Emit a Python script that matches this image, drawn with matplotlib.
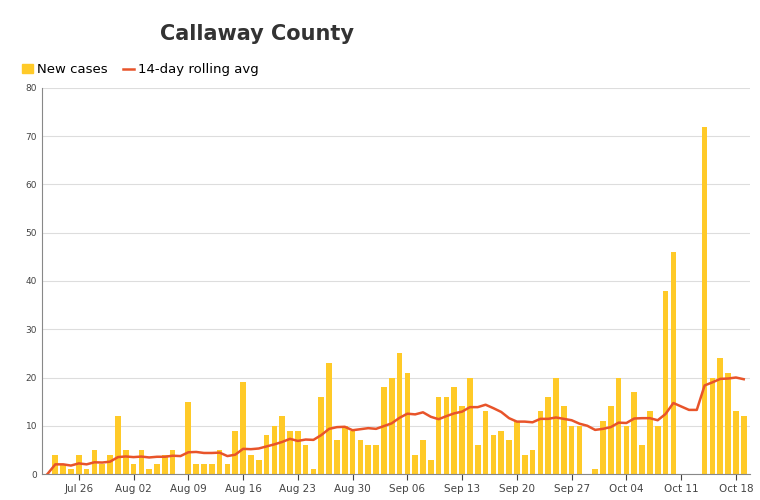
import numpy as np
import pandas as pd
import matplotlib
matplotlib.use("Agg")
import matplotlib.pyplot as plt
import matplotlib.dates as mdates

start = "2020-07-22"
cases = [0,4,2,1,4,1,5,2,4,12,5,2,5,1,2,4,5,0,15,2,2,2,5,2,9,19,4,3,8,10,
         12,9,9,6,1,16,23,7,10,9,7,6,6,18,20,25,21,4,7,3,16,16,18,14,20,6,13,8,9,7,
         11,4,5,13,16,20,14,10,10,0,1,11,14,20,10,17,6,13,10,38,46,0,0,0,72,20,24,21,13,12]
dates = pd.date_range(start, periods=len(cases), freq="D")
s = pd.Series(cases, index=dates, dtype=float)
avg = s.rolling(14, min_periods=1).mean()
tick_dates = pd.date_range("2020-07-26", "2020-10-18", freq="7D")
tick_labels = [d.strftime("%b %d") for d in tick_dates]

fig = plt.figure(figsize=(7.6, 5.0), dpi=100)
ax = fig.add_axes([42/760, 26/500, 708/760, 386/500])
ax.bar(dates, s.values, width=0.72, color="#FFCA28", zorder=2)
ax.plot(dates, avg.values, color="#E8542A", lw=1.8, zorder=3)
ax.set_ylim(0, 80)
ax.set_yticks(range(0, 81, 10))
ax.set_xlim(dates[0] - pd.Timedelta(days=0.7), dates[-1] + pd.Timedelta(days=0.8))
ax.set_xticks(tick_dates)
ax.set_xticklabels(tick_labels)
ax.tick_params(axis="x", labelsize=7.5, colors="#444", length=4)
ax.tick_params(axis="y", labelsize=6.5, colors="#444", length=0)
ax.grid(axis="y", color="#dddddd", lw=0.8, zorder=0)
for sp in ["top", "right"]:
    ax.spines[sp].set_visible(False)
for sp in ["left", "bottom"]:
    ax.spines[sp].set_color("#888")
fig.text(257/760, 1 - 34/500, "Callaway County", ha="center", va="center",
         fontsize=15, fontweight="bold", color="#333")
ax.legend(handles=[
    plt.Rectangle((0, 0), 1, 1, color="#FFCA28", label="New cases"),
    plt.Line2D([], [], color="#E8542A", lw=1.8, label="14-day rolling avg")],
    loc="lower left", bbox_to_anchor=(-0.045, 1.0), ncol=2, frameon=False,
    fontsize=9.5, handlelength=0.8, handletextpad=0.3, columnspacing=1.2)
fig.savefig("out.png", dpi=100)
